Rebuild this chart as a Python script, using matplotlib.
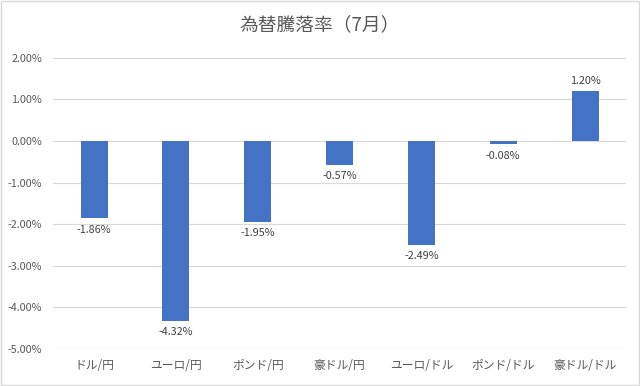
import numpy as np
import matplotlib.pyplot as plt
from matplotlib.ticker import FuncFormatter

plt.rcParams['font.family'] = ['Noto Sans CJK JP', 'DejaVu Sans']

categories = ['ドル/円', 'ユーロ/円', 'ポンド/円', '豪ドル/円', 'ユーロ/ドル', 'ポンド/ドル', '豪ドル/ドル']
values = [-1.86, -4.32, -1.95, -0.57, -2.49, -0.08, 1.20]

fig = plt.figure(figsize=(6.4, 3.86), dpi=100)
ax = fig.add_axes([0.083, 0.096, 0.895, 0.754])

x = np.arange(len(categories))
ax.bar(x, values, width=0.33, color='#4472c4', zorder=3)

for xi, v in zip(x, values):
    if v < 0:
        ax.text(xi, v - 0.15, f'{v:.2f}%', ha='center', va='top', fontsize=7.8, color='#404040')
    else:
        ax.text(xi, v + 0.12, f'{v:.2f}%', ha='center', va='bottom', fontsize=7.8, color='#404040')

ax.set_xlim(-0.5, len(categories) - 0.5)
ax.set_ylim(-5, 2)
ax.set_yticks(np.arange(-5, 2.1, 1))
ax.yaxis.set_major_formatter(FuncFormatter(lambda v, p: f'{v:.2f}%'))
ax.set_xticks(x)
ax.set_xticklabels(categories)
ax.tick_params(axis='both', length=0, colors='#595959')
ax.tick_params(axis='y', labelsize=7.8, pad=8)
ax.tick_params(axis='x', labelsize=8.5, pad=7)
ax.grid(axis='y', color='#d9d9d9', linewidth=0.8, zorder=0)
for s in ax.spines.values():
    s.set_visible(False)

fig.text(0.5, 0.935, '為替騰落率（7月）', ha='center', va='center', fontsize=13.5, color='#595959')

fig.patches.append(plt.Rectangle((0.002, 0.003), 0.996, 0.994, transform=fig.transFigure,
                                 fill=False, edgecolor='#d9d9d9', linewidth=1))

fig.savefig('out.png', dpi=100)
